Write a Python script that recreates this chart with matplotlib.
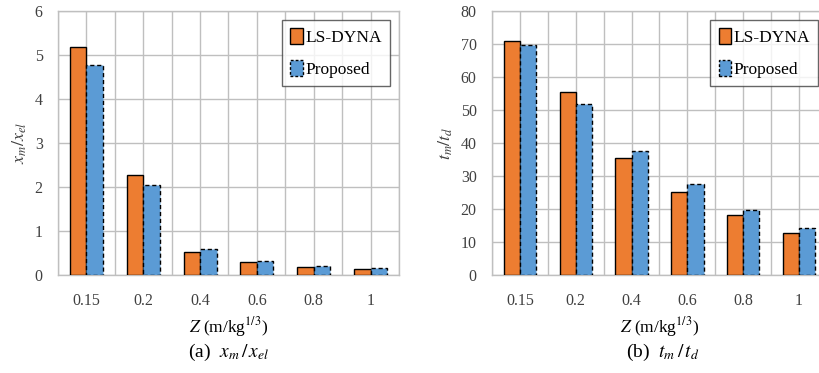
import matplotlib
matplotlib.use("Agg")
import matplotlib.pyplot as plt
import numpy as np
from matplotlib.patches import Patch

# scaled distance categories
z_labels = ["0.15", "0.2", "0.4", "0.6", "0.8", "1"]

# x_m / x_el
disp_lsdyna = [5.18, 2.28, 0.53, 0.29, 0.18, 0.14]
disp_proposed = [4.78, 2.04, 0.58, 0.31, 0.20, 0.16]

# t_m / t_d
time_lsdyna = [71.0, 55.5, 35.4, 25.2, 18.2, 12.8]
time_proposed = [69.6, 51.8, 37.5, 27.5, 19.6, 14.2]

ORANGE = "#ED7D31"
BLUE = "#5B9BD5"
GRID = "#BFBFBF"
TEXT = "#404040"

plt.rcParams["font.family"] = ["Liberation Serif", "DejaVu Serif"]
plt.rcParams["mathtext.fontset"] = "stix"

fig = plt.figure(figsize=(8.2, 3.73), dpi=100)
ax_a = fig.add_axes([0.0707, 0.2627, 0.4159, 0.7078])
ax_b = fig.add_axes([0.6000, 0.2627, 0.4085, 0.7078])


def bar_panel(ax, lsdyna, proposed, ymax, ystep, ylabel):
    x = np.arange(len(z_labels))
    w = 0.29
    ax.bar(x - w / 2, lsdyna, w, color=ORANGE, edgecolor="black",
           linewidth=1.0, zorder=3)
    ax.bar(x + w / 2, proposed, w, color=BLUE, edgecolor="black",
           linewidth=1.0, linestyle=(0, (3, 2)), zorder=3)
    ax.set_xlim(-0.5, len(z_labels) - 0.5)
    ax.set_ylim(0, ymax)
    ax.set_yticks(np.arange(0, ymax + ystep / 2, ystep))
    ax.set_xticks(x)
    ax.set_xticklabels(z_labels)
    # vertical grid at category boundaries and centres
    for xv in np.arange(-0.5, len(z_labels) - 0.4, 0.5):
        ax.axvline(xv, color=GRID, linewidth=1.0, zorder=0)
    ax.yaxis.grid(True, color=GRID, linewidth=1.0, zorder=0)
    ax.set_axisbelow(True)
    for sp in ax.spines.values():
        sp.set_color(GRID)
        sp.set_linewidth(1.0)
    ax.tick_params(axis="x", length=0, labelsize=11.5, colors=TEXT, pad=13)
    ax.tick_params(axis="y", length=0, labelsize=11.5, colors=TEXT, pad=11)
    ax.set_ylabel(ylabel, fontsize=13, color=TEXT, labelpad=4)
    ax.set_xlabel(r"$Z$ (m/kg$^{1/3}$)", fontsize=12.5, labelpad=4)

    handles = [
        Patch(facecolor=ORANGE, edgecolor="black", linewidth=1.0),
        Patch(facecolor=BLUE, edgecolor="black", linewidth=1.0,
              linestyle=(0, (2, 1.5))),
    ]
    leg = ax.legend(handles, ["LS-DYNA", "Proposed"], loc="upper right",
                    bbox_to_anchor=(0.985, 0.98), fontsize=12.5,
                    frameon=True, fancybox=False, handlelength=0.7,
                    handleheight=1.0, handletextpad=0.15,
                    labelspacing=0.8, borderpad=0.5, borderaxespad=0.2)
    leg.get_frame().set_edgecolor(TEXT)
    leg.get_frame().set_linewidth(1.0)
    leg.set_zorder(5)


bar_panel(ax_a, disp_lsdyna, disp_proposed, 6, 1, r"$x_m/x_{el}$")
bar_panel(ax_b, time_lsdyna, time_proposed, 80, 10, r"$t_m/t_d$")

fig.text(0.2786, 0.054, r"(a)  $x_m\,/\,x_{el}$", ha="center", va="center",
         fontsize=14)
fig.text(0.808, 0.054, r"(b)  $t_m\,/\,t_d$", ha="center", va="center",
         fontsize=14)

fig.savefig("out.png", dpi=100)
